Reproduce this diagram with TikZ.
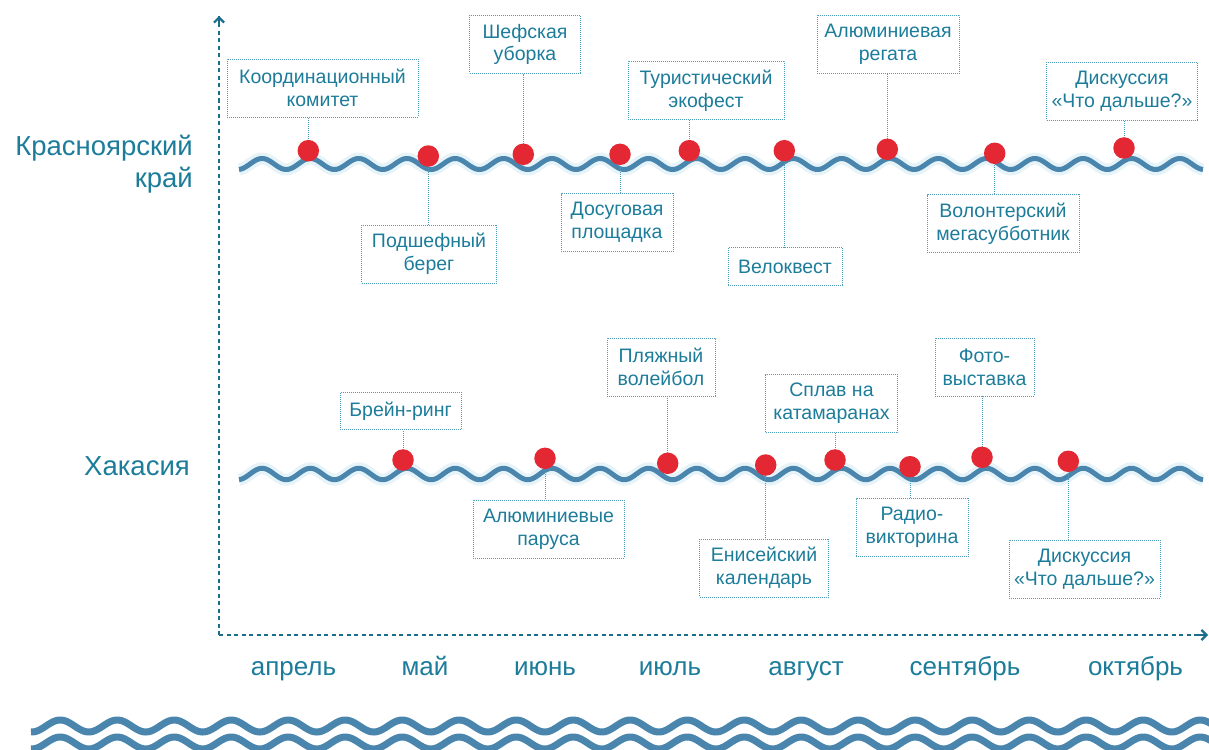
\documentclass[tikz,border=0pt]{standalone}
\usepackage{fontspec}
\setmainfont{Liberation Sans}
\usetikzlibrary{arrows.meta}
\definecolor{txt}{HTML}{1C7C9A}
\definecolor{boxc}{HTML}{4C9DB8}
\definecolor{axisc}{HTML}{1A6E8C}
\definecolor{wavec}{HTML}{4A85AD}
\definecolor{glowc}{HTML}{E6F3F8}
\definecolor{dotc}{HTML}{E42833}
\newcommand\mywave[7]{%
  \draw[#7] plot[domain=#1:#2,samples=600,smooth] (\x,{#3-#4*sin(((\x-#6)/#5)*360)});}
\tikzset{
  evbox/.style={draw=boxc, line width=0.9pt, dash pattern=on 0.9pt off 1.1pt,
    text=txt, align=center, inner xsep=4pt, inner ysep=2pt,
    font=\fontsize{19.5}{22.7}\selectfont, minimum height=58pt},
  evone/.style={evbox, minimum height=37.5pt},
  conn/.style={draw=boxc, line width=0.9pt, dash pattern=on 0.9pt off 1.1pt},
  reddot/.style={circle, fill=dotc, draw=none, minimum size=21.5pt, inner sep=0pt},
  axisline/.style={draw=axisc, line width=2.6pt, dash pattern=on 4pt off 3.5pt},
  month/.style={text=txt, anchor=base, inner sep=0pt, font=\fontsize{26}{30}\selectfont},
  region/.style={text=txt, align=right, anchor=base east, inner sep=0pt, font=\fontsize{27.5}{32}\selectfont},
  glow/.style={draw=glowc, line width=12pt},
  tline/.style={draw=wavec, line width=5pt},
  bwave/.style={draw=wavec, line width=7pt}
}
\begin{document}
\begin{tikzpicture}[x=1pt,y=-1pt]
\useasboundingbox (0,0) rectangle (1209,749);

% axes
\coordinate (o) at (219,635);
\coordinate (ytop) at (219,16);
\coordinate (xend) at (1208,635);
\draw[axisline] (o) -- (ytop);
\draw[axisline] (o) -- (xend);
\draw[draw=axisc, line width=2.2pt, -{Straight Barb[length=5pt,width=10pt]}] (219,26) -- (ytop);
\draw[draw=axisc, line width=2.2pt, -{Straight Barb[length=5pt,width=10pt]}] (1198,635) -- (xend);

% region labels
\node[region] (kr) at (193,187) {Красноярский\\край};
\node[region] (kh) at (190,475.7) {Хакасия};

% months
\node[month] (m1) at (293.5,675) {апрель};
\node[month] (m2) at (425,675) {май};
\node[month] (m3) at (545,675) {июнь};
\node[month] (m4) at (670,675) {июль};
\node[month] (m5) at (806,675) {август};
\node[month] (m6) at (965,675) {сентябрь};
\node[month] (m7) at (1135.5,675) {октябрь};

% timeline waves
\mywave{239}{1203}{164}{5.5}{48.3}{250}{glow}
\mywave{239}{1203}{474}{5.7}{48.3}{250}{glow}
\mywave{239}{1203}{164}{5.5}{48.3}{250}{tline}
\mywave{239}{1203}{474}{5.7}{48.3}{250}{tline}

% bottom decorative waves
\mywave{31}{1212}{726}{6}{57}{46}{bwave}
\mywave{31}{1212}{743}{6}{57}{46}{bwave}

% upper events
\node[evbox, minimum width=191pt] (b1) at (322.5,88) {Координационный\\комитет};
\node[evbox, minimum width=135pt] (b2) at (429,254) {Подшефный\\берег};
\node[evbox, minimum width=111pt] (b3) at (525,44.5) {Шефская\\уборка};
\node[evbox, minimum width=112pt] (b4) at (617,222.5) {Досуговая\\площадка};
\node[evbox, minimum width=156pt] (b5) at (706,90.5) {Туристический\\экофест};
\node[evone, minimum width=114pt] (b6) at (785,266.5) {Велоквест};
\node[evbox, minimum width=142pt] (b7) at (888,44.5) {Алюминиевая\\регата};
\node[evbox, minimum width=152pt] (b8) at (1003,223.5) {Волонтерский\\мегасубботник};
\node[evbox, minimum width=151pt] (b9) at (1122,91.5) {Дискуссия\\«Что дальше?»};

% lower events
\node[evone, minimum width=121pt] (c1) at (400.5,411) {Брейн-ринг};
\node[evbox, minimum width=151pt] (c2) at (548.5,529) {Алюминиевые\\паруса};
\node[evbox, minimum width=108pt] (c3) at (661,367) {Пляжный\\волейбол};
\node[evbox, minimum width=129pt] (c4) at (764,568) {Енисейский\\календарь};
\node[evbox, minimum width=132pt] (c5) at (831.5,403.5) {Сплав на\\катамаранах};
\node[evbox, minimum width=112pt] (c6) at (912,527.5) {Радио-\\викторина};
\node[evbox, minimum width=99pt] (c7) at (984.5,367) {Фото-\\выставка};
\node[evbox, minimum width=151pt] (c8) at (1084.5,569) {Дискуссия\\«Что дальше?»};

% dot positions
\coordinate (u1) at (308.3,150.7);
\coordinate (u2) at (428.3,156);
\coordinate (u3) at (523.3,154.3);
\coordinate (u4) at (620,154.3);
\coordinate (u5) at (689.3,150.7);
\coordinate (u6) at (784.3,150.7);
\coordinate (u7) at (887.3,149.3);
\coordinate (u8) at (994.7,153.3);
\coordinate (u9) at (1124,148);
\coordinate (l1) at (403,460);
\coordinate (l2) at (545,458.3);
\coordinate (l3) at (667.7,463.3);
\coordinate (l4) at (765.7,465);
\coordinate (l5) at (835,460);
\coordinate (l6) at (910,466.7);
\coordinate (l7) at (982,457.3);
\coordinate (l8) at (1068.3,461.3);

% connectors
\draw[conn] (u1) -- (u1 |- b1.south);
\draw[conn] (u2) -- (u2 |- b2.north);
\draw[conn] (u3) -- (u3 |- b3.south);
\draw[conn] (u4) -- (u4 |- b4.north);
\draw[conn] (u5) -- (u5 |- b5.south);
\draw[conn] (u6) -- (u6 |- b6.north);
\draw[conn] (u7) -- (u7 |- b7.south);
\draw[conn] (u8) -- (u8 |- b8.north);
\draw[conn] (u9) -- (u9 |- b9.south);
\draw[conn] (l1) -- (l1 |- c1.south);
\draw[conn] (l2) -- (l2 |- c2.north);
\draw[conn] (l3) -- (l3 |- c3.south);
\draw[conn] (l4) -- (l4 |- c4.north);
\draw[conn] (l5) -- (l5 |- c5.south);
\draw[conn] (l6) -- (l6 |- c6.north);
\draw[conn] (l7) -- (l7 |- c7.south);
\draw[conn] (l8) -- (l8 |- c8.north);

% dots
\foreach \p in {u1,u2,u3,u4,u5,u6,u7,u8,u9,l1,l2,l3,l4,l5,l6,l7,l8}
  \node[reddot] (dot\p) at (\p) {};
\end{tikzpicture}
\end{document}
